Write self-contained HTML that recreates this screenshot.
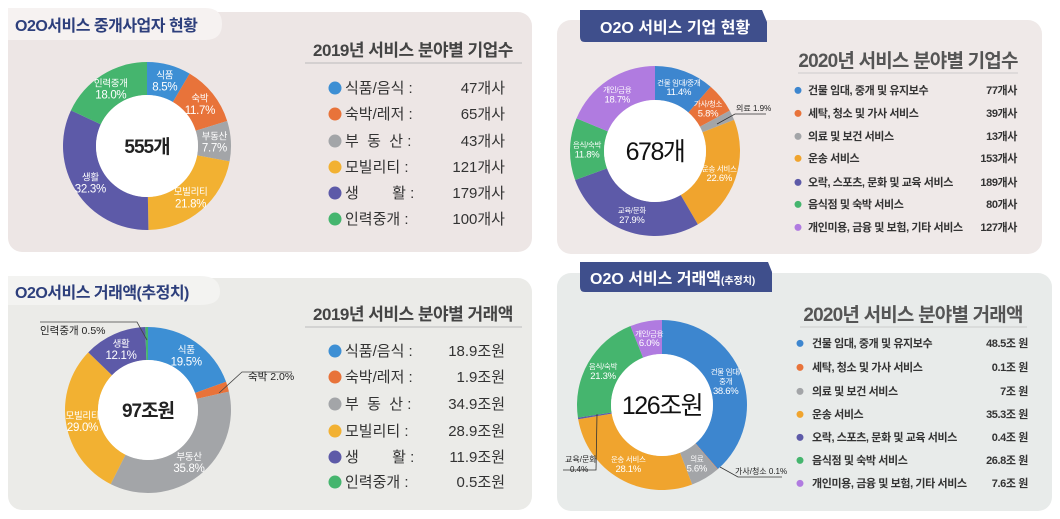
<!DOCTYPE html>
<html><head><meta charset="utf-8"><style>
html,body{margin:0;padding:0;background:#fff;}
svg{display:block;font-family:"Liberation Sans","Noto Sans CJK KR",sans-serif;}
text{white-space:pre;}
</style></head><body>
<svg id="c" width="1060" height="519" viewBox="0 0 1060 519" xmlns="http://www.w3.org/2000/svg">
<rect x="0" y="0" width="1060" height="519" fill="#fff"/>
<rect x="8" y="12" width="524" height="240" rx="14" fill="#ede6e5"/>
<rect x="8" y="278" width="524" height="232" rx="14" fill="#ebebe8"/>
<rect x="557" y="20" width="485" height="234" rx="14" fill="#efe9e8"/>
<rect x="557" y="273" width="495" height="238" rx="14" fill="#e8ebea"/>
<path d="M8,8 H205 Q222,8 222,24 Q222,40 205,40 H8 Z" fill="#f6f2f1"/>
<text x="15" y="31" font-size="16" font-weight="bold" fill="#2d3f7c" letter-spacing="-0.5">O2O서비스 중개사업자 현황</text>
<path d="M8,276 H200 Q220,276 220,292 Q220,305 200,305 H8 Z" fill="#f3f3f1"/>
<text x="15" y="298" font-size="16" font-weight="bold" fill="#2d3f7c" letter-spacing="-0.5">O2O서비스 거래액(추정치)</text>
<path d="M580,10 H762 L767,22 V42 H585 Q580,42 580,37 Z" fill="#3f4f8c"/>
<text x="600" y="33" font-size="16" font-weight="bold" fill="#fff">O2O 서비스 기업 현황</text>
<path d="M580,262 H768 L772,272 V292 H585 Q580,292 580,287 Z" fill="#3f4f8c"/>
<text x="590" y="284" font-size="16" font-weight="bold" fill="#fff">O2O 서비스 거래액<tspan font-size="10">(추정치)</tspan></text>
<g id="charts"></g>
</svg>
<script>
const NS="http://www.w3.org/2000/svg";
const root=document.getElementById('charts');
// ---- data ----
const tlCategories=["식품/음식","숙박/레저","부동산","모빌리티","생활","인력중개"];
const tlValues=[47,65,43,121,179,100];
const tlSliceLabels=["식품","숙박","부동산","모빌리티","생활","인력중개"];
const tlPctLabels=["8.5%","11.7%","7.7%","21.8%","32.3%","18.0%"];
const tlLegendLabels=["식품/음식 :","숙박/레저 :","부  동  산 :","모빌리티 :","생        활 :","인력중개 :"];
const tlLegendValues=["47개사","65개사","43개사","121개사","179개사","100개사"];

const blValues=[18.9,1.9,34.9,28.9,11.9,0.5];
const blSliceLabels=["식품","","부동산","모빌리티","생활",""];
const blPctLabels=["19.5%","","35.8%","29.0%","12.1%",""];
const blLegendLabels=tlLegendLabels;
const blLegendValues=["18.9조원","1.9조원","34.9조원","28.9조원","11.9조원","0.5조원"];

const trCategories=["건물 임대, 중개 및 유지보수","세탁, 청소 및 가사 서비스","의료 및 보건 서비스","운송 서비스","오락, 스포츠, 문화 및 교육 서비스","음식점 및 숙박 서비스","개인미용, 금융 및 보험, 기타 서비스"];
const trValues=[77,39,13,153,189,80,127];
const trSliceLabels=["건물 임대/중개","가사/청소","","운송 서비스","교육/문화","음식/숙박","개인/금융"];
const trPctLabels=["11.4%","5.8%","","22.6%","27.9%","11.8%","18.7%"];
const trLegendValues=["77개사","39개사","13개사","153개사","189개사","80개사","127개사"];

const brValues=[48.5,0.1,7,35.3,0.4,26.8,7.6];
const brSliceLabels=["건물 임대/|중개","","의료","운송 서비스","","음식/숙박","개인/금융"];
const brPctLabels=["38.6%","","5.6%","28.1%","","21.3%","6.0%"];
const brLegendValues=["48.5조 원","0.1조 원","7조 원","35.3조 원","0.4조 원","26.8조 원","7.6조 원"];

const col6=["#3d8fd4","#e8733a","#a3a5a8","#f2b132","#5d5aa8","#45b56e"];
const col7=["#3d86cf","#e8733a","#a3a5a8","#f0a42e","#5d5aa8","#45b56e","#b07be0"];

function el(tag,attrs,parent){const e=document.createElementNS(NS,tag);for(const k in attrs)e.setAttribute(k,attrs[k]);(parent||root).appendChild(e);return e;}
function txt(x,y,s,size,fill,weight,anchor,name,ls){const t=el('text',{x:x,y:y,'font-size':size,fill:fill,'font-weight':weight||'normal','text-anchor':anchor||'start','letter-spacing':ls||0});t.textContent=s;


return t;}

function donut(cx,cy,ro,ri,values,colors,labels,pcts,lsize,prefix){
  const total=values.reduce((a,b)=>a+b,0);
  let a0=-Math.PI/2;
  values.forEach((v,i)=>{
    const a1=a0+v/total*Math.PI*2;
    const large=(a1-a0)>Math.PI?1:0;
    const p=(r,a)=>[cx+r*Math.cos(a),cy+r*Math.sin(a)];
    const [x1,y1]=p(ro,a0),[x2,y2]=p(ro,a1),[x3,y3]=p(ri,a1),[x4,y4]=p(ri,a0);
    const path=el('path',{d:`M${x1},${y1}A${ro},${ro} 0 ${large} 1 ${x2},${y2}L${x3},${y3}A${ri},${ri} 0 ${large} 0 ${x4},${y4}Z`,fill:colors[i]});
    
    
    if(labels[i]){
      const am=(a0+a1)/2,rm=(ro+ri)/2;
      const lx=cx+rm*Math.cos(am),ly=cy+rm*Math.sin(am);
      const lines=labels[i].split('|').concat([pcts[i]]);
      const n=lines.length;
      lines.forEach((s,k)=>{txt(lx,ly+(k-(n-1)/2)*lsize*1.15+lsize*0.35,s,k==n-1?lsize+1:lsize-1,'#fff','normal','middle',prefix+'-slice-label-'+i,-0.3);});
    }
    a0=a1;
  });
  el('circle',{cx:cx,cy:cy,r:ri,fill:'#fff'});
}

function legend(x,dotx,valx,ys,labels,values,colors,size,weight,prefix,dotr,ls){
  ys.forEach((y,i)=>{
    const c=el('circle',{cx:dotx,cy:y-size*0.33,r:dotr,fill:colors[i]});
    
    
    txt(x,y,labels[i],size,'#333',weight,'start',prefix+'-legend-label-'+i,ls);
    txt(valx,y,values[i],size,'#333',weight,'end',prefix+'-legend-value-'+i,ls);
  });
}

// TL
donut(147,146,84,51,tlValues,col6,tlSliceLabels,tlPctLabels,10.5,'tl');
txt(147,153,"555개",19,'#222','bold','middle','tl-center-total',-1);
txt(413,56,"2019년 서비스 분야별 기업수",17,'#444','bold','middle','tl-legend-title',-0.5);
el('line',{x1:305,y1:63,x2:522,y2:63,stroke:'#bbb','stroke-width':1});
legend(345,335,505,[93,119,146,172,198,224],tlLegendLabels,tlLegendValues,col6,15,'normal','tl',6.5,0);

// BL
donut(148,410,83,50,blValues,col6,blSliceLabels,blPctLabels,10.5,'bl');
txt(148,417,"97조원",19,'#222','bold','middle','bl-center-total',-1);
txt(413,320,"2019년 서비스 분야별 거래액",17,'#444','bold','middle','bl-legend-title',-0.5);
el('line',{x1:305,y1:327,x2:522,y2:327,stroke:'#bbb','stroke-width':1});
legend(345,335,505,[356,382,409,436,462,487],blLegendLabels,blLegendValues,col6,15,'normal','bl',6.5,0);
el('polyline',{points:"40,322 137,322 147,340",fill:'none',stroke:'#444','stroke-width':0.8});
txt(40,334,"인력중개 0.5%",10.5,'#222','normal','start','bl-label-recruit');
el('polyline',{points:"292,372 242,372 219,393",fill:'none',stroke:'#444','stroke-width':0.8});
txt(248,380,"숙박 2.0%",10.5,'#222','normal','start','bl-label-lodging');

// TR
donut(655,151,85,51,trValues,col7,trSliceLabels,trPctLabels,8.5,'tr');
txt(655,160,"678개",25,'#111','normal','middle','tr-center-total',-1.5);
txt(908,67,"2020년 서비스 분야별 기업수",19,'#555','bold','middle','tr-legend-title',-0.8);
el('line',{x1:798,y1:73,x2:1018,y2:73,stroke:'#ccc','stroke-width':1});
legend(808,798,1017,[94,117,140,162,186,208,231],trCategories,trLegendValues,col7,11,'bold','tr',3.5,-0.4);
el('polyline',{points:"717,124 735,114 766,114",fill:'none',stroke:'#333','stroke-width':0.8});
txt(736,111,"의료 1.9%",8,'#222','normal','start','tr-label-medical');

// BR
donut(662,405,85,51,brValues,col7,brSliceLabels,brPctLabels,8.5,'br');
txt(662,414,"126조원",25,'#111','normal','middle','br-center-total',-1.5);
txt(913,321,"2020년 서비스 분야별 거래액",19,'#555','bold','middle','br-legend-title',-0.8);
el('line',{x1:800,y1:327,x2:1027,y2:327,stroke:'#ccc','stroke-width':1});
legend(812,800,1028,[347,371,395,418,441,464,487],trCategories,brLegendValues,col7,11,'bold','br',3.5,-0.4);
el('polyline',{points:"597,414 596,470 563,470",fill:'none',stroke:'#333','stroke-width':0.8});
txt(565,462,"교육/문화",8,'#222','normal','start','br-label-edu');
txt(570,472,"0.4%",8,'#222','normal','start','br-label-edu-pct');
el('polyline',{points:"720,467 738,477 782,477",fill:'none',stroke:'#333','stroke-width':0.8});
txt(735,474,"가사/청소 0.1%",8,'#222','normal','start','br-label-housework');
</script>
</body></html>
